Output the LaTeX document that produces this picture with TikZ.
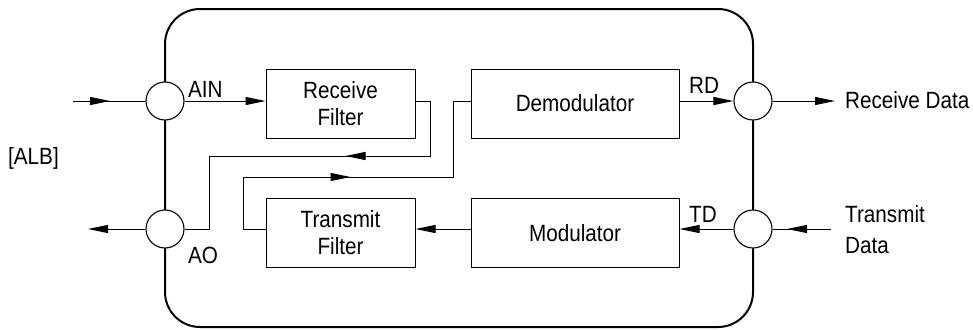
\documentclass[tikz,border=0pt]{standalone}
\usepackage{fontspec}
\setmainfont{Liberation Sans}[FakeStretch=0.88]
\usetikzlibrary{arrows.meta,decorations.markings}
\begin{document}
\begin{tikzpicture}[x=1pt,y=-1pt,
 blk/.style={draw,line width=1pt,inner sep=0pt,minimum height=69pt,align=center,font=\fontsize{23.5}{27}\selectfont},
 port/.style={circle,draw,fill=white,line width=1.1pt,minimum size=38pt,inner sep=0pt},
 wire/.style={line width=1pt},
 tip/.style={-{Triangle[length=20pt,width=8pt]}},
 lbl/.style={inner sep=0pt,font=\fontsize{23.5}{27}\selectfont},
 midtip/.style={postaction={decorate},decoration={markings,mark=at position #1 with {\arrow{Triangle[length=20pt,width=8pt]}}}}
]
\useasboundingbox (0,0) rectangle (973,330);
\draw[line width=2pt,rounded corners=35pt] (165,9) rectangle (753,327);

\node[blk,minimum width=149pt] (rf) at (340.5,103.5) {Receive\\Filter};
\node[blk,minimum width=208pt] (dem) at (575,103.5) {Demodulator};
\node[blk,minimum width=149pt] (tf) at (340.5,233) {Transmit\\Filter};
\node[blk,minimum width=208pt] (mod) at (575,233) {Modulator};

\node[port] (cin) at (165,101) {};
\node[port] (cout) at (165,229) {};
\node[port] (rdp) at (753,101) {};
\node[port] (tdp) at (753,229) {};

\coordinate (ain) at (73,101);
\coordinate (aout) at (88,229);
\coordinate (rdo) at (835,101);
\coordinate (tdi) at (831,229);

\draw[wire,midtip=37pt] (ain) -- (cin);
\draw[wire,tip] (cout) -- (aout);
\draw[wire,tip] (cin) -- (cin -| rf.west);
\draw[wire,tip] (dem.east |- rdp) -- (rdp);
\draw[wire,tip] (rdp) -- (rdo);
\draw[wire,midtip=44pt] (tdi) -- (tdp);
\draw[wire,tip] (tdp) -- (tdp -| mod.east);
\draw[wire,tip] (mod.west |- tdp) -- (tdp -| tf.east);

\draw[wire,midtip=154pt] (rf.east |- cin) -- (430,101) -- (430,156) -- (209,156) -- (209,229) -- (cout);
\draw[wire,midtip=182pt] (tf.west |- tdp) -- (243,229) -- (243,177) -- (453,177) -- (453,101) -- (dem.west |- cin);

\node[lbl,anchor=base west] (lain) at (188,97) {AIN};
\node[lbl,anchor=base west] (lao) at (188,263) {AO};
\node[lbl,anchor=base west] (lrd) at (689,93) {RD};
\node[lbl,anchor=base west] (ltd) at (689,222) {TD};
\node[lbl,anchor=base west] (lalb) at (8,164) {[ALB]};
\node[lbl,anchor=west] (lrdata) at (845,100) {Receive Data};
\node[lbl,anchor=west,align=left,font=\fontsize{23.5}{31}\selectfont] (ltdata) at (845,230) {Transmit\\Data};
\end{tikzpicture}
\end{document}
